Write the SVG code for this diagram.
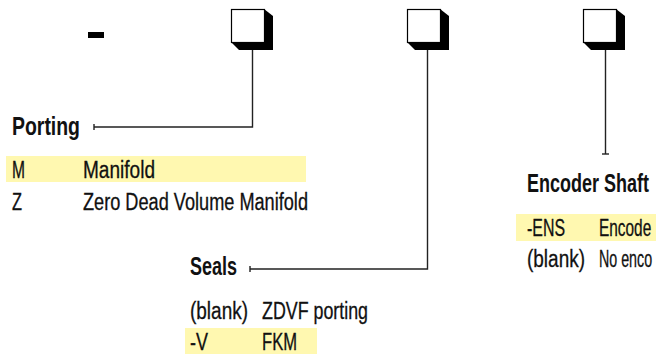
<svg xmlns="http://www.w3.org/2000/svg" width="656" height="354" viewBox="0 0 656 354">
<defs>
<style>
.h{font-family:"Liberation Sans",Arial,sans-serif;font-weight:bold;font-size:25px;fill:#111}
.t{font-family:"Liberation Sans",Arial,sans-serif;font-size:23px;fill:#111;stroke:#111;stroke-width:0.3}
.hl{fill:#fff8b0}
.ln{fill:none;stroke:#222;stroke-width:1.4}
.sh{fill:#000}
.bx{fill:#fff;stroke:#000;stroke-width:1.2}
</style>
<g id="box">
<polygon class="sh" points="264,9 273,16 273,50 239,50 231,42"/>
<rect class="bx" x="231.5" y="9.5" width="33" height="33"/>
</g>
</defs>
<rect x="88" y="32" width="16" height="6" fill="#000"/>
<g id="box1"><use href="#box"/></g>
<g id="box2"><use href="#box" x="176"/></g>
<g id="box3"><use href="#box" x="352"/></g>
<g id="connectors">
<polyline class="ln" points="252.5,50 252.5,127 94,127"/>
<line class="ln" x1="94" y1="124" x2="94" y2="130"/>
<polyline class="ln" points="427.5,50 427.5,269 250,269"/>
<line class="ln" x1="250" y1="266" x2="250" y2="272"/>
<line class="ln" x1="605.5" y1="50" x2="605.5" y2="154"/>
<line class="ln" x1="602" y1="154" x2="609" y2="154"/>
</g>
<g id="porting">
<text class="h" x="12" y="135" textLength="68" lengthAdjust="spacingAndGlyphs">Porting</text>
<rect class="hl" x="6" y="156" width="300" height="26"/>
<text class="t" x="12" y="178" textLength="13" lengthAdjust="spacingAndGlyphs">M</text>
<text class="t" x="83" y="178" textLength="72" lengthAdjust="spacingAndGlyphs">Manifold</text>
<text class="t" x="12" y="210" textLength="10" lengthAdjust="spacingAndGlyphs">Z</text>
<text class="t" x="83" y="210" textLength="225" lengthAdjust="spacingAndGlyphs">Zero Dead Volume Manifold</text>
</g>
<g id="seals">
<text class="h" x="190" y="275" textLength="47" lengthAdjust="spacingAndGlyphs">Seals</text>
<text class="t" x="190" y="319" textLength="58" lengthAdjust="spacingAndGlyphs">(blank)</text>
<text class="t" x="262" y="319" textLength="106" lengthAdjust="spacingAndGlyphs">ZDVF porting</text>
<rect class="hl" x="185" y="328" width="132" height="26"/>
<text class="t" x="190" y="350" textLength="18" lengthAdjust="spacingAndGlyphs">-V</text>
<text class="t" x="262" y="350" textLength="35" lengthAdjust="spacingAndGlyphs">FKM</text>
</g>
<g id="encoder">
<text class="h" transform="translate(527,192) scale(0.72,1)">Encoder Shaft</text>
<rect class="hl" x="516" y="214" width="140" height="27"/>
<text class="t" x="527" y="236" textLength="38" lengthAdjust="spacingAndGlyphs">-ENS</text>
<text class="t" transform="translate(599,236) scale(0.67,1)">Encode</text>
<text class="t" x="527" y="267" textLength="58" lengthAdjust="spacingAndGlyphs">(blank)</text>
<text class="t" transform="translate(599,267) scale(0.62,1)">No enco</text>
</g>
</svg>
